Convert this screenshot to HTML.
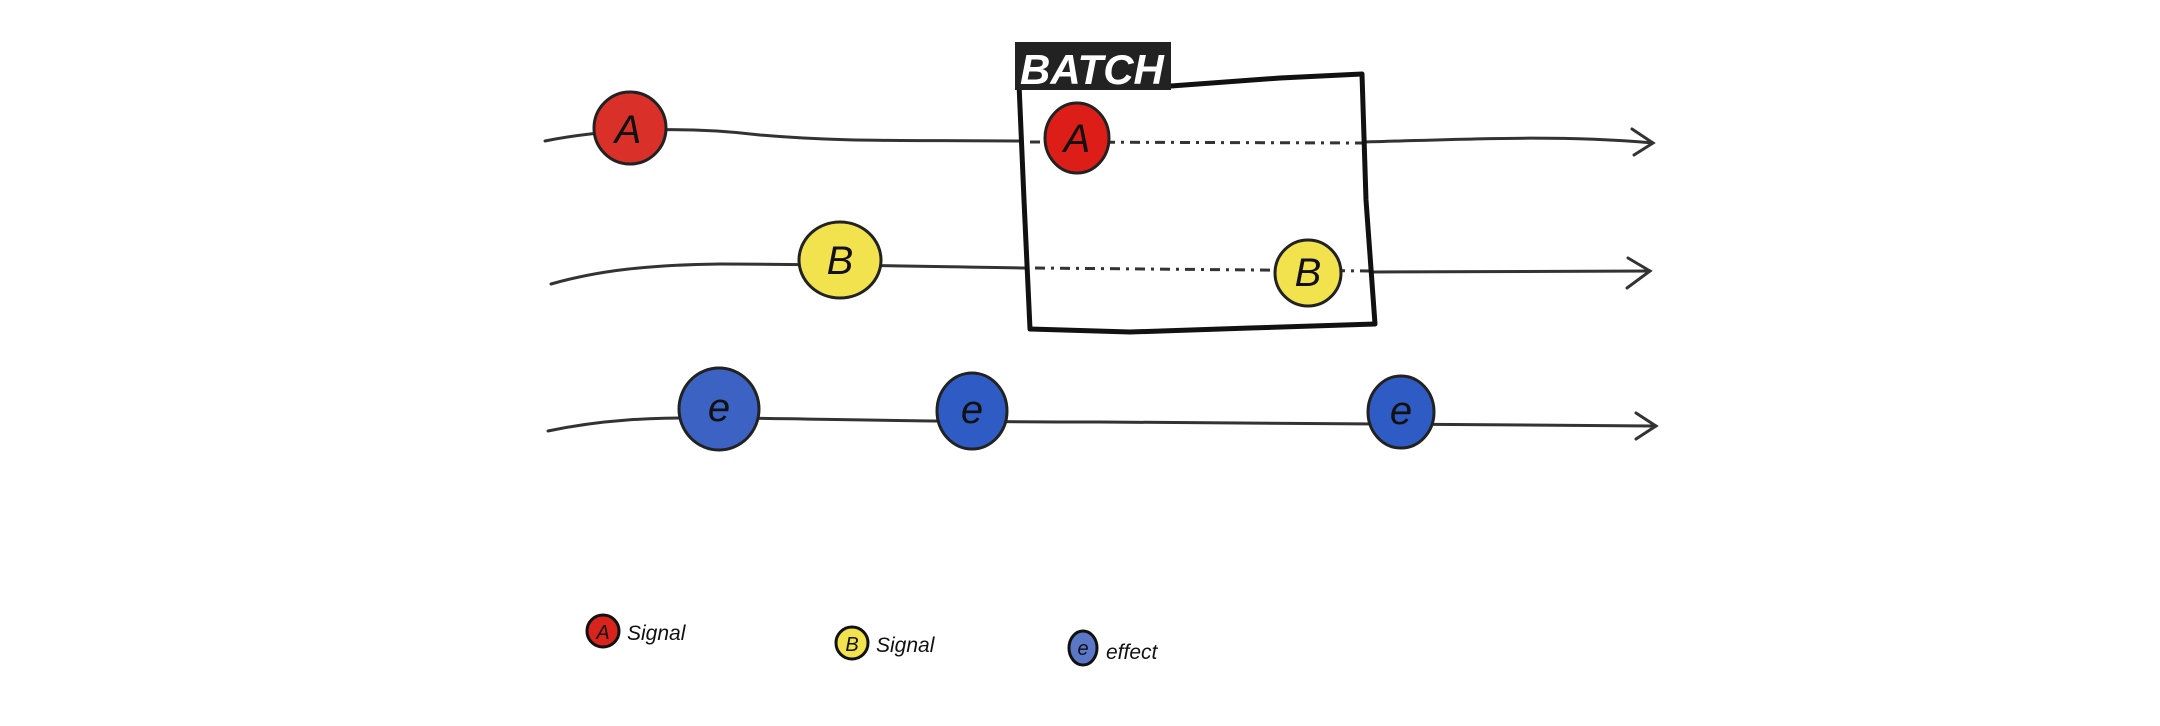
<!DOCTYPE html>
<html><head><meta charset="utf-8"><style>
html,body{margin:0;padding:0;background:#fff;width:2160px;height:726px;overflow:hidden}
svg{display:block}
.hand{font-family:"Liberation Sans",sans-serif;font-style:italic}
</style></head><body>
<svg id="diagram" width="2160" height="726" viewBox="0 0 2160 726" xmlns="http://www.w3.org/2000/svg">
<g fill="none" stroke="#333" stroke-width="3" stroke-linecap="round">
<path d="M545 141 C600 130 680 125 760 135 C840 142 900 140 1019 141"/>
<path d="M1364 142 C1450 140 1550 134 1653 143"/>
<path d="M1632 129 L1653 143 L1634 155"/>
<path d="M551 284 C600 270 650 265 720 264 C800 264 900 266 1027 268"/>
<path d="M1372 272 L1650 271"/>
<path d="M1628 258 L1650 271 L1627 288"/>
<path d="M548 431 C600 420 650 417 720 418 C800 418 900 422 1100 422 C1300 423 1500 424 1656 426"/>
<path d="M1636 413 L1656 426 L1636 439"/>
</g>
<g stroke="#333" stroke-width="3" stroke-dasharray="10 6 3 6">
<line x1="1030" y1="142" x2="1362" y2="143"/>
<line x1="1035" y1="268" x2="1370" y2="271"/>
</g>
<path d="M1019 84 L1171 86 L1280 78 L1362 74 L1366 200 L1375 324 L1250 328 L1130 332 L1030 329 L1024 200 Z" fill="none" stroke="#111" stroke-width="5" stroke-linejoin="round"/>
<rect x="1015" y="42" width="156" height="48" fill="#222"/>
<text x="1020" y="84" class="hand" font-size="42" font-weight="bold" fill="#fff">BATCH</text>
<g stroke="#222" stroke-width="3">
<ellipse cx="630" cy="128" rx="36" ry="36" fill="#d9302a"/>
<ellipse cx="1077" cy="138" rx="32" ry="35" fill="#dd1e18"/>
<ellipse cx="840" cy="260" rx="41" ry="38" fill="#f2e24e"/>
<ellipse cx="1308" cy="273" rx="33" ry="33" fill="#f2e24e"/>
<ellipse cx="719" cy="409" rx="40" ry="41" fill="#3c62c4"/>
<ellipse cx="972" cy="411" rx="35" ry="38" fill="#2f5cc4"/>
<ellipse cx="1401" cy="412" rx="33" ry="36" fill="#2f5cc4"/>
</g>
<g class="hand" fill="#111" text-anchor="middle" font-size="40">
<text x="628" y="143">A</text><text x="1077" y="152">A</text>
<text x="840" y="274">B</text><text x="1308" y="286">B</text>
<text x="719" y="421">e</text><text x="972" y="423">e</text><text x="1401" y="424">e</text>
</g>
<g stroke="#111" stroke-width="3">
<circle cx="603" cy="631" r="16" fill="#d9231d"/>
<circle cx="852" cy="643" r="16" fill="#f2e24e"/>
<ellipse cx="1083" cy="648" rx="14" ry="17" fill="#5b78c8"/>
</g>
<g class="hand" fill="#111" font-size="21">
<text x="603" y="639" text-anchor="middle" font-size="20">A</text>
<text x="852" y="651" text-anchor="middle" font-size="20">B</text>
<text x="1083" y="655" text-anchor="middle" font-size="20">e</text>
<text x="627" y="640">Signal</text>
<text x="876" y="652">Signal</text>
<text x="1106" y="659">effect</text>
</g>
</svg>
</body></html>
